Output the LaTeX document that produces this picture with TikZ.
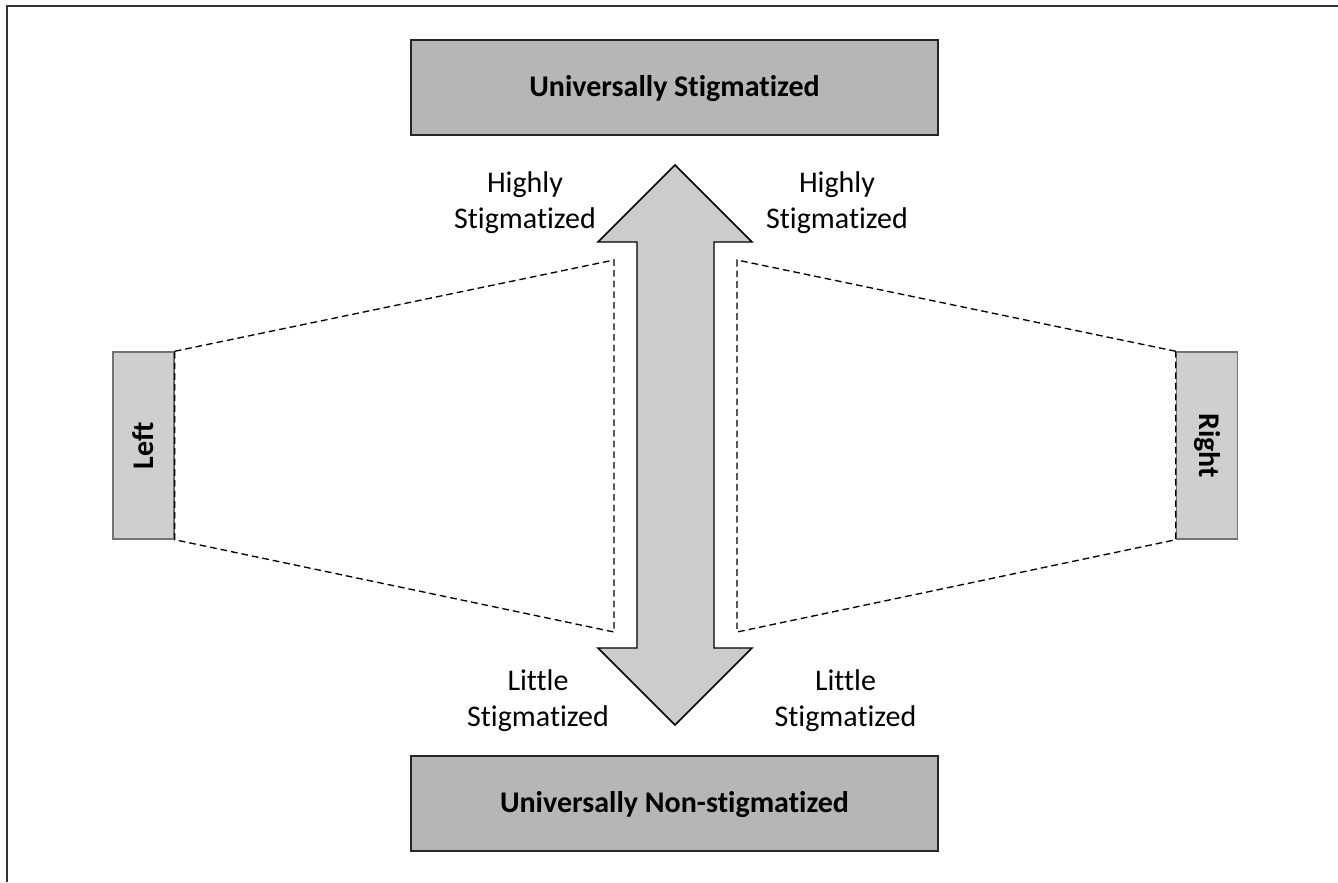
\documentclass[tikz,border=0pt]{standalone}
\usepackage{fontspec}
\setmainfont{Carlito}[Ligatures=NoCommon]
\begin{document}
\begin{tikzpicture}[x=0.75pt,y=-0.75pt,
  bigbox/.style={draw=black!85,line width=1.5pt,fill=gray!60!white!95,
     minimum width=395.25pt,minimum height=71.25pt,inner sep=0pt,
     text height=18pt,text depth=4pt,
     font=\fontsize{22.5}{27}\selectfont\bfseries},
  sidebox/.style={draw=black!55,line width=1.1pt,fill=gray!38,
     minimum width=45.75pt,minimum height=140.25pt,inner sep=0pt},
  sidetext/.style={font=\fontsize{22.5}{27}\selectfont\bfseries,inner sep=0pt},
  lbl/.style={align=center,inner sep=0pt,font=\fontsize{22.5}{27}\selectfont},
  trap/.style={dashed,dash pattern=on 5pt off 3pt,line width=1pt,black},
  bigarrow/.style={draw=black,line width=1.1pt,fill=gray!40,line join=miter}]
\useasboundingbox (0,0) rectangle (1338,882);
% frame
\draw[line width=1.5pt,black!80] (7,882) -- (7,6) -- (1338,6);
% boxes
\node[bigbox] (top) at (674.5,87.5) {Universally Stigmatized};
\node[bigbox] (bot) at (674.5,803.5) {Universally Non-stigmatized};
\node[sidebox] (L) at (143.5,445.5) {};
\node[sidetext,rotate=90] (Ltxt) at (L.center) {Left};
\node[sidebox] (R) at (1207,445.5) {};
\node[sidetext,rotate=-90] (Rtxt) at (R.center) {Right};
% double arrow
\draw[bigarrow] (675,165) -- (752,242) -- (714,242) -- (714,648) -- (752,648)
  -- (675,725) -- (598,648) -- (637,648) -- (637,242) -- (598,242) -- cycle;
% dashed trapezoids
\coordinate (lt) at (614,260);
\coordinate (lb) at (614,632);
\coordinate (rt) at (737,260);
\coordinate (rb) at (737,632);
\draw[trap] (L.north east) -- (lt) -- (lb) -- (L.south east) -- cycle;
\draw[trap] (R.north west) -- (rt) -- (rb) -- (R.south west) -- cycle;
% labels
\node[lbl] (hl) at (525,203) {Highly\\Stigmatized};
\node[lbl] (hr) at (837,203) {Highly\\Stigmatized};
\node[lbl] (ll) at (538,700.5) {Little\\Stigmatized};
\node[lbl] (lr) at (845.5,700.5) {Little\\Stigmatized};
\end{tikzpicture}
\end{document}
